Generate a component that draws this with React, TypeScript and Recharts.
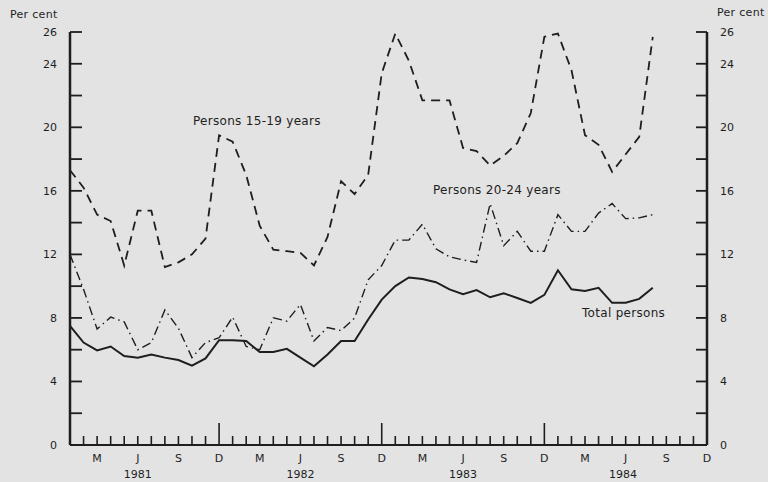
import { Line, LineChart, XAxis, YAxis } from "recharts";

// months counted from Jan 1981 (0) to Dec 1984 (47)
const months = Array.from({ length: 44 }, (_, i) => i);

const persons15to19 = [
  17.3, 16.2, 14.5, 14.1, 11.3, 14.75, 14.75, 11.2, 11.5, 12.0, 13.0, 19.5,
  19.1, 17.0, 13.8, 12.3, 12.2, 12.1, 11.3, 13.1, 16.6, 15.8, 17.0, 23.4,
  25.9, 24.2, 21.7, 21.7, 21.7, 18.7, 18.5, 17.6, 18.2, 19.0, 20.9, 25.7,
  25.9, 23.6, 19.5, 18.9, 17.2, 18.3, 19.4, 25.7,
];
const persons20to24 = [
  12.0, 9.8, 7.3, 8.05, 7.75, 6.0, 6.45, 8.5, 7.35, 5.5, 6.45, 6.75,
  8.05, 6.2, 6.0, 8.0, 7.8, 8.85, 6.55, 7.4, 7.2, 8.0, 10.4, 11.3,
  12.9, 12.9, 13.9, 12.35, 11.85, 11.65, 11.5, 15.2, 12.55, 13.45, 12.2, 12.2,
  14.5, 13.45, 13.45, 14.6, 15.2, 14.25, 14.3, 14.5,
];
const totalPersons = [
  7.5, 6.45, 5.95, 6.2, 5.6, 5.5, 5.7, 5.5, 5.35, 5.0, 5.45, 6.6,
  6.6, 6.55, 5.85, 5.85, 6.05, 5.5, 4.95, 5.7, 6.55, 6.55, 7.9, 9.15,
  10.0, 10.55, 10.45, 10.25, 9.8, 9.5, 9.75, 9.3, 9.55, 9.25, 8.95, 9.45,
  11.0, 9.8, 9.7, 9.9, 8.95, 8.95, 9.2, 9.9,
];

const monthTicks = Array.from({ length: 47 }, (_, i) => i + 1);
const quarterLabels: Record<number, string> = { 2: "M", 5: "J", 8: "S", 11: "D" };
const yearTicks = [5, 17, 29, 40.8];
const yearLabels = ["1981", "1982", "1983", "1984"];
const yTicks = [0, 2, 4, 6, 8, 10, 12, 14, 16, 18, 20, 22, 24, 26];
const yLabelled = [0, 4, 8, 12, 16, 20, 24, 26];

const rows = months.map((m, i) => ({
  m,
  youth: persons15to19[i],
  young: persons20to24[i],
  total: totalPersons[i],
}));

const INK = "#1e1e1e";
const FONT = "DejaVu Sans, sans-serif";

function MonthTick(props: any) {
  const { x, y, payload } = props;
  const v = payload.value as number;
  const label = quarterLabels[v % 12];
  const isDec = v % 12 === 11 && v < 47;
  return (
    <g>
      <line x1={x} y1={y} x2={x} y2={y - (isDec ? 22 : 9)} stroke={INK} strokeWidth={1.6} />
      {label && (
        <text x={x} y={y + 17} textAnchor="middle" fontSize={11} fontFamily={FONT} fill={INK}>
          {label}
        </text>
      )}
    </g>
  );
}

function YearTick(props: any) {
  const { x, y, index } = props;
  return (
    <text x={x} y={y + 13} textAnchor="middle" fontSize={11} fontFamily={FONT} fill={INK}>
      {yearLabels[index]}
    </text>
  );
}

function LeftTick(props: any) {
  const { x, y, payload } = props;
  return (
    <g>
      <line x1={x} y1={y} x2={x + 12} y2={y} stroke={INK} strokeWidth={1.8} />
      {yLabelled.includes(payload.value) && (
        <text x={x - 13} y={y + 4} textAnchor="end" fontSize={11} fontFamily={FONT} fill={INK}>
          {payload.value}
        </text>
      )}
    </g>
  );
}

function RightTick(props: any) {
  const { x, y, payload } = props;
  return (
    <g>
      <line x1={x} y1={y} x2={x - 11} y2={y} stroke={INK} strokeWidth={1.8} />
      {yLabelled.includes(payload.value) && (
        <text x={x + 13} y={y + 4} textAnchor="start" fontSize={11} fontFamily={FONT} fill={INK}>
          {payload.value}
        </text>
      )}
    </g>
  );
}

const note = (left: number, top: number, size = 12): React.CSSProperties => ({
  position: "absolute",
  left,
  top,
  fontSize: size,
  lineHeight: "14px",
  fontFamily: FONT,
  color: INK,
  whiteSpace: "nowrap",
  letterSpacing: 0.3,
});

export default function App() {
  return (
    <div style={{ position: "absolute", left: 0, top: 0, width: 768, height: 482, background: "#e3e3e3" }}>
      <LineChart width={768} height={482} data={rows} margin={{ top: 32, right: 1, bottom: 0, left: 10 }}>
        <XAxis
          dataKey="m"
          type="number"
          domain={[0, 47]}
          ticks={monthTicks}
          interval={0}
          tickSize={0}
          tickMargin={0}
          height={20}
          axisLine={{ stroke: INK, strokeWidth: 2 }}
          tickLine={false}
          tick={(p: any) => <MonthTick {...p} />}
        />
        <XAxis
          xAxisId="yr"
          dataKey="m"
          type="number"
          domain={[0, 47]}
          ticks={yearTicks}
          interval={0}
          tickSize={0}
          tickMargin={0}
          height={17}
          axisLine={false}
          tickLine={false}
          tick={(p: any) => <YearTick {...p} />}
        />
        <YAxis
          yAxisId="l"
          domain={[0, 26]}
          ticks={yTicks}
          interval={0}
          width={60}
          tickSize={0}
          tickMargin={0}
          axisLine={{ stroke: INK, strokeWidth: 2.5 }}
          tickLine={false}
          tick={(p: any) => <LeftTick {...p} />}
        />
        <YAxis
          yAxisId="r"
          orientation="right"
          domain={[0, 26]}
          ticks={yTicks}
          interval={0}
          width={60}
          tickSize={0}
          tickMargin={0}
          axisLine={{ stroke: INK, strokeWidth: 2.5 }}
          tickLine={false}
          tick={(p: any) => <RightTick {...p} />}
        />
        <Line
          yAxisId="l"
          type="linear"
          dataKey="youth"
          stroke={INK}
          strokeWidth={1.8}
          strokeDasharray="9 6"
          dot={false}
          isAnimationActive={false}
        />
        <Line
          yAxisId="l"
          type="linear"
          dataKey="young"
          stroke={INK}
          strokeWidth={1.4}
          strokeDasharray="9 4 1.5 4"
          dot={false}
          isAnimationActive={false}
        />
        <Line
          yAxisId="r"
          type="linear"
          dataKey="total"
          stroke={INK}
          strokeWidth={2}
          dot={false}
          isAnimationActive={false}
        />
      </LineChart>
      <div style={note(10, 8, 11)}>Per cent</div>
      <div style={note(717, 6, 11)}>Per cent</div>
      <div style={note(193, 114)}>Persons 15-19 years</div>
      <div style={note(433, 183)}>Persons 20-24 years</div>
      <div style={note(582, 306)}>Total persons</div>
    </div>
  );
}
